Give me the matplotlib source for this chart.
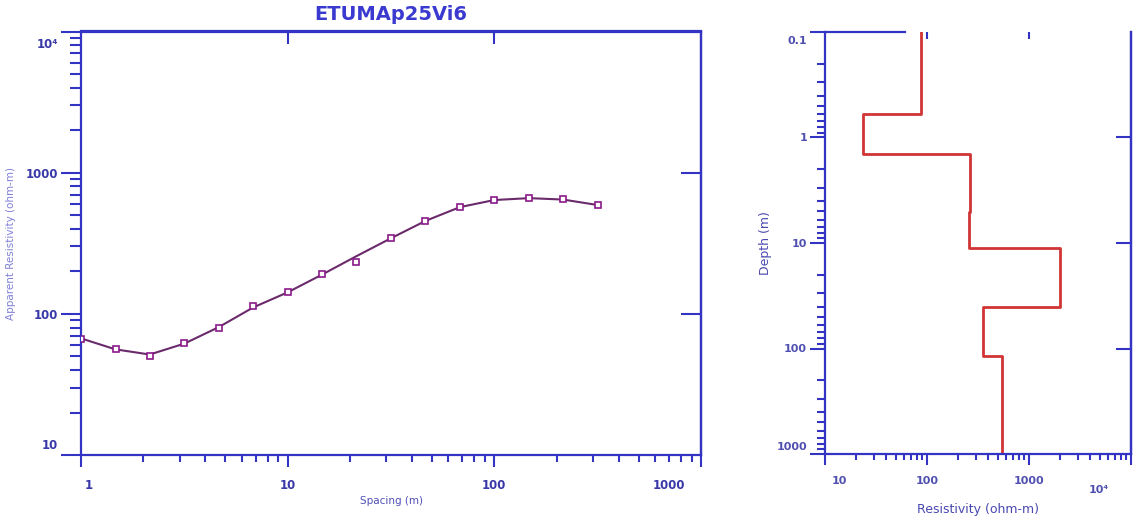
import numpy as np
import matplotlib.pyplot as plt
from matplotlib.ticker import LogLocator, NullLocator, NullFormatter
from matplotlib.transforms import ScaledTranslation

plt.rcParams['font.family'] = ['DejaVu Sans']
plt.rcParams['font.weight'] = 'bold'

# sounding curve: half spacing (m) vs apparent resistivity (ohm-m)
spacing = [1, 1.47, 2.15, 3.16, 4.64, 6.81, 10, 14.7, 21.5, 31.6, 46.4, 68.1, 100, 147, 215, 316]
rho_obs = [66, 56.5, 50, 62.5, 80, 113, 143, 193, 233, 347, 458, 572, 638, 662, 648, 589]
rho_calc = [67, 56, 51.5, 61.5, 80.5, 111, 142, 190, 256, 343, 455, 570, 640, 660, 645, 590]

# layered model
layer_rho = [88, 23.4, 265, 256, 2010, 357, 541]
layer_bottom = [0.6, 1.44, 5.1, 11.1, 40.2, 117, 1000]
top_depth = 0.1

x_ticks = [1, 10, 100, 1000]
x_labels = ['1', '10', '100', '1000']
y_ticks = [10, 100, 1000, 10000]
y_labels = ['10', '100', '1000', '10⁴']
res_ticks = [10, 100, 1000, 10000]
res_labels = ['10', '100', '1000', '10⁴']
depth_ticks = [0.1, 1, 10, 100, 1000]
depth_labels = ['0.1', '1', '10', '100', '1000']

axc = '#3434c4'
W, H = 1133, 521
fig = plt.figure(figsize=(W / 100, H / 100), dpi=100)


def shift(label, dx, dy):
    # move a tick label by dx, dy pixels
    label.set_transform(label.get_transform() +
                        ScaledTranslation(dx / 100, dy / 100, fig.dpi_scale_trans))


# ---- left panel: sounding curve
ax1 = fig.add_axes([81 / W, 66 / H, 620 / W, 423.5 / H])
ax1.set_xscale('log')
ax1.set_yscale('log')
ax1.plot(spacing, rho_calc, color='#6b2a6b', lw=1.5, zorder=2)
ax1.plot(spacing, rho_obs, ls='none', marker='s', ms=5, mfc='white',
         mec='#8a1a8a', mew=1.2, zorder=3)
ax1.set_xlim(1, 1000)
ax1.set_ylim(10, 10000)
ax1.set_xticks(x_ticks, labels=x_labels)
ax1.set_yticks(y_ticks, labels=y_labels)
for a in (ax1.xaxis, ax1.yaxis):
    a.set_minor_locator(LogLocator(base=10, subs=np.arange(2, 10), numticks=20))
    a.set_minor_formatter(NullFormatter())
ax1.tick_params(which='both', direction='out', color=axc, width=1.5,
                top=False, right=False, labelcolor='#3838a8', labelsize=8.5)
ax1.tick_params(axis='x', which='major', length=8.5, pad=9)
ax1.tick_params(axis='x', which='minor', length=5)
ax1.tick_params(axis='y', which='major', length=14.5, pad=2)
ax1.tick_params(axis='y', which='minor', length=8)
for s in ax1.spines.values():
    s.set_color(axc)
    s.set_linewidth(1.6)
xl = ax1.get_xticklabels()
yl = ax1.get_yticklabels()
shift(xl[0], 8, 0)
shift(xl[-1], -32, 0)
shift(yl[0], 0, 11)
shift(yl[-1], 0, -11)

t1 = ax1.secondary_xaxis('top')
t1.set_xticks([10, 100])
t1.xaxis.set_minor_locator(NullLocator())
t1.tick_params(direction='in', length=9, width=1.5, color=axc, labeltop=False, labelbottom=False)
t1.spines['top'].set_color(axc)
t1.spines['top'].set_linewidth(1.6)
r1 = ax1.secondary_yaxis('right')
r1.set_yticks([100, 1000])
r1.yaxis.set_minor_locator(NullLocator())
r1.tick_params(direction='in', length=14.5, width=1.5, color=axc, labelright=False, labelleft=False)
r1.spines['right'].set_color(axc)
r1.spines['right'].set_linewidth(1.6)

ax1.set_xlabel('Spacing (m)', fontsize=7.5, color='#5050b8')
ax1.xaxis.set_label_coords(0.5, -0.097)
ax1.set_ylabel('Apparent Resistivity (ohm-m)', fontsize=7.5, color='#8080d8')
ax1.yaxis.set_label_coords(-0.105, 0.5)
fig.text(391 / W, 1 - 14 / H, 'ETUMAp25Vi6', ha='center', va='center',
         fontsize=14, fontweight='bold', color='#3a3ad0')

# ---- right panel: layered model
ax2 = fig.add_axes([825 / W, 67 / H, 306 / W, 422 / H])
ax2.set_xscale('log')
ax2.set_yscale('log')
depths = [top_depth] + layer_bottom
xs = np.repeat(layer_rho, 2)
ys = np.repeat(depths, 2)[1:-1]
ax2.plot(xs, ys, color='#d03434', lw=2)
ax2.set_xlim(10, 10000)
ax2.set_ylim(1000, 0.1)
ax2.set_xticks(res_ticks, labels=res_labels)
ax2.set_yticks(depth_ticks, labels=depth_labels)
for a in (ax2.xaxis, ax2.yaxis):
    a.set_minor_locator(LogLocator(base=10, subs=np.arange(2, 10), numticks=20))
    a.set_minor_formatter(NullFormatter())
ax2.tick_params(which='both', direction='out', color=axc, width=1.5,
                top=False, right=False, labelcolor='#5050b0', labelsize=8)
ax2.tick_params(axis='x', which='major', length=8, pad=8)
ax2.tick_params(axis='x', which='minor', length=4.3)
ax2.tick_params(axis='y', which='major', length=11, pad=2)
ax2.tick_params(axis='y', which='minor', length=5.8)
for s in ax2.spines.values():
    s.set_color(axc)
    s.set_linewidth(1.6)
ax2.spines['top'].set_bounds(10, 61)
xl2 = ax2.get_xticklabels()
yl2 = ax2.get_yticklabels()
shift(xl2[0], 14, 0)
shift(xl2[-1], -32, -9)
shift(yl2[0], 0, -8)
shift(yl2[-1], 0, 8)

t2 = ax2.secondary_xaxis('top')
t2.set_xticks([100, 1000])
t2.xaxis.set_minor_locator(NullLocator())
t2.tick_params(direction='in', length=5, width=1.5, color=axc, labeltop=False, labelbottom=False)
t2.spines['top'].set_visible(False)
r2 = ax2.secondary_yaxis('right')
r2.set_yticks([1, 10, 100])
r2.yaxis.set_minor_locator(NullLocator())
r2.tick_params(direction='in', length=11, width=1.5, color=axc, labelright=False, labelleft=False)
r2.spines['right'].set_color(axc)
r2.spines['right'].set_linewidth(1.6)

ax2.set_xlabel('Resistivity (ohm-m)', fontsize=9, color='#4848b0')
ax2.xaxis.set_label_coords(0.5, -0.116)
ax2.set_ylabel('Depth (m)', fontsize=9, color='#4848b0')
ax2.yaxis.set_label_coords(-0.173, 0.5)

fig.savefig('out.png', dpi=100)
